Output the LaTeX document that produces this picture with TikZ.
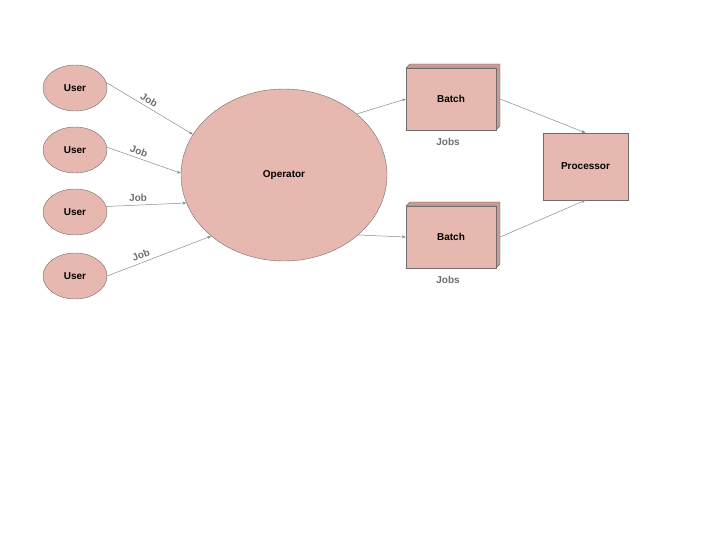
\documentclass[tikz,border=0pt]{standalone}
\usepackage{fontspec}
\setmainfont{Liberation Sans}
\usetikzlibrary{shapes.geometric,arrows.meta}
\definecolor{fillc}{HTML}{E6B8AF}
\definecolor{edgec}{HTML}{6E6E6E}
\definecolor{sidec}{HTML}{C99A92}
\tikzset{
  every node/.style={font=\fontsize{10}{12}\selectfont\bfseries},
  usernode/.style={ellipse,draw=edgec,fill=fillc,minimum width=64pt,minimum height=46pt,inner sep=0pt},
  opnode/.style={ellipse,draw=edgec,fill=fillc,minimum width=206pt,minimum height=172pt,inner sep=0pt},
  boxnode/.style={rectangle,draw=edgec,fill=fillc,minimum width=90pt,minimum height=62pt,inner sep=0pt},
  conn/.style={draw=edgec!80,-{Stealth[length=4pt,width=3pt]},line width=0.5pt},
  lbl/.style={text=edgec,font=\fontsize{10}{12}\selectfont\bfseries}
}
\begin{document}
\begin{tikzpicture}[x=1pt,y=1pt]
\useasboundingbox (0,0) rectangle (720,-540);
\node[usernode] (u1) at (75,-88) {User};
\node[usernode] (u2) at (75,-150) {User};
\node[usernode] (u3) at (75,-212) {User};
\node[usernode] (u4) at (75,-276) {User};
\node[opnode] (op) at (284,-175) {Operator};
\foreach \n/\y in {b1/-99,b2/-237}{
  \fill[sidec,draw=edgec] (406,\y+31) -- (410,\y+35) -- (500,\y+35) -- (500,\y-27) -- (496,\y-31) -- (496,\y+31) -- cycle;
}
\node[boxnode] (b1) at (451,-99) {Batch};
\node[boxnode] (b2) at (451,-237) {Batch};
\node[lbl] (j1) at (448,-142) {Jobs};
\node[lbl] (j2) at (448,-280) {Jobs};
\node[boxnode,minimum width=85pt,minimum height=67pt] (p) at (585.5,-166.5) {Processor};
\draw[conn] (u1.10) -- node[lbl,sloped,above,pos=0.45] {Job} (op.156);
\draw[conn] (u2.5) -- node[lbl,sloped,above,pos=0.4] {Job} (op.179);
\draw[conn] (u3.10) -- node[lbl,sloped,above,pos=0.4] {Job} (op.196);
\draw[conn] (u4.0) -- node[lbl,sloped,above,pos=0.35] {Job} (op.220);
\draw[conn] (op.40) -- (b1.west);
\draw[conn] (op.-39) -- (b2.west);
\draw[conn] ([xshift=4pt]b1.east) -- (p.north);
\draw[conn] ([xshift=4pt]b2.east) -- (p.south);
\end{tikzpicture}
\end{document}
